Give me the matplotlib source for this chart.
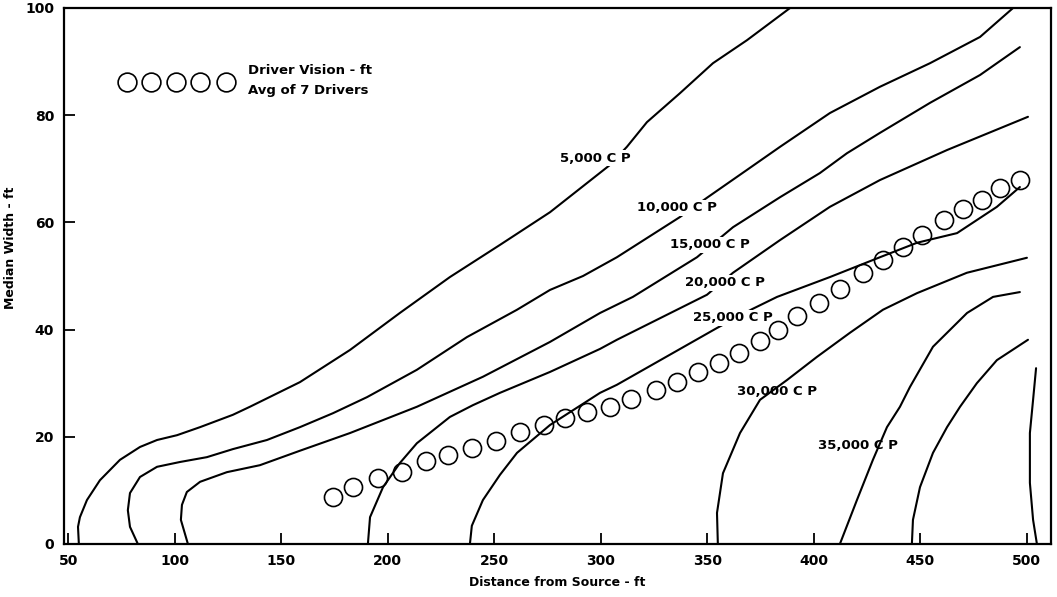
import matplotlib
matplotlib.use("Agg")
import matplotlib.pyplot as plt

# ---- data ----
cp5000_x = [55.0, 54.6, 55.5, 58.8, 64.9, 74.3, 83.7, 91.7, 101.1, 111.9, 127.3, 135.3, 158.8, 182.3,
            205.7, 229.2, 252.7, 276.2, 304.3, 312.3, 321.7, 337.2, 352.7, 368.7, 388.9]
cp5000_y = [0, 3.2, 5.0, 8.2, 11.9, 15.7, 18.1, 19.4, 20.3, 21.8, 24.1, 25.6, 30.2, 36.2,
            43.1, 49.8, 55.8, 61.9, 70.7, 74.1, 78.7, 84.1, 89.7, 94.0, 100]

cp10000_x = [82.7, 79.0, 78.0, 79.0, 83.7, 91.7, 102.5, 115.1, 127.3, 143.3, 158.8, 174.3, 190.3,
             213.7, 237.2, 260.7, 276.2, 291.7, 307.6, 337.2, 349.9, 368.7, 384.2, 407.6, 431.1,
             454.6, 478.1, 493.6]
cp10000_y = [0, 3.2, 6.3, 9.5, 12.5, 14.4, 15.3, 16.2, 17.7, 19.4, 21.8, 24.4, 27.4,
             32.5, 38.6, 43.7, 47.4, 50.0, 53.5, 61.0, 64.6, 69.8, 74.1, 80.4, 85.3,
             89.7, 94.6, 100]

cp15000_x = [106.2, 102.9, 103.4, 105.7, 111.9, 124.5, 140.0, 158.8, 182.3, 213.7, 244.7, 276.2,
             299.7, 315.1, 345.2, 362.1, 384.2, 402.9, 415.6, 431.1, 454.6, 478.1, 486.0, 496.8]
cp15000_y = [0, 4.5, 7.3, 9.7, 11.6, 13.4, 14.7, 17.4, 20.7, 25.6, 31.2, 37.7,
             43.1, 46.1, 53.5, 59.1, 64.7, 69.2, 72.9, 76.7, 82.3, 87.5, 89.7, 92.7]

cp20000_x = [190.7, 191.7, 197.8, 205.7, 213.7, 229.2, 240.0, 252.7, 276.2, 299.7, 307.6, 349.9,
             362.1, 384.2, 407.6, 431.1, 462.6, 500.6]
cp20000_y = [0, 5.0, 10.6, 15.1, 18.8, 23.7, 25.9, 28.2, 32.1, 36.4, 38.1, 46.5,
             50.6, 56.7, 62.9, 67.9, 73.5, 79.7]

cp25000_x = [238.6, 239.5, 244.7, 252.7, 260.7, 276.2, 299.7, 307.6, 354.6, 371.0, 382.8, 407.6,
             431.1, 448.5, 467.3, 486.0, 496.8]
cp25000_y = [0, 3.4, 8.2, 12.9, 17.0, 22.2, 28.2, 29.7, 40.3, 43.8, 46.1, 49.8,
             53.5, 56.2, 58.0, 62.9, 66.6]

cp30000_x = [355.0, 354.6, 357.4, 365.4, 374.8, 387.5, 401.5, 417.0, 432.5, 448.5, 471.9, 500.1]
cp30000_y = [0, 5.8, 13.2, 20.7, 26.9, 30.6, 34.9, 39.4, 43.7, 46.8, 50.6, 53.4]

cp35000_x = [412.3, 420.3, 427.8, 434.4, 440.5, 445.2, 456.0, 472.0, 484.2, 496.8]
cp35000_y = [0, 8.2, 15.7, 21.8, 25.6, 29.3, 36.8, 43.1, 46.1, 47.0]

cp40000_x = [446.1, 446.6, 449.9, 456.0, 462.6, 468.7, 476.6, 486.0, 500.6]
cp40000_y = [0, 4.5, 10.6, 17.0, 21.8, 25.6, 30.0, 34.3, 38.1]

cp45000_x = [504.8, 503.0, 501.5, 501.5, 503.0, 504.4]
cp45000_y = [0, 4.5, 11.4, 20.7, 26.9, 32.8]

vision_x = [174.3, 183.7, 195.4, 206.7, 218.0, 228.3, 239.5, 250.8, 262.1, 273.4, 283.2, 293.5,
            304.3, 314.2, 325.9, 335.8, 345.7, 355.5, 364.9, 374.8, 383.2, 392.1, 402.5, 412.3,
            423.1, 432.5, 441.9, 450.8, 461.1, 470.1, 479.0, 487.4, 496.8]
vision_y = [8.8, 10.6, 12.3, 13.4, 15.5, 16.6, 17.9, 19.2, 20.9, 22.2, 23.5, 24.6,
            25.6, 27.1, 28.7, 30.2, 32.1, 33.8, 35.6, 37.9, 39.9, 42.5, 45.0, 47.6,
            50.6, 53.0, 55.4, 57.6, 60.4, 62.5, 64.2, 66.4, 67.9]

legend_x = [77.4, 89.0, 100.6, 112.1, 124.2]
legend_y = [86.2, 86.2, 86.2, 86.2, 86.2]
legend_lines = ["Driver Vision - ft", "Avg of 7 Drivers"]

curve_labels = ["5,000 C P", "10,000 C P", "15,000 C P", "20,000 C P",
                "25,000 C P", "30,000 C P", "35,000 C P"]
label_x = [280.9, 317.0, 332.5, 339.5, 343.3, 364.0, 402.0]
label_y = [72.0, 62.7, 55.8, 48.7, 42.2, 28.4, 18.3]
label_masked = [True, True, True, True, True, False, False]

x_ticks = [50, 100, 150, 200, 250, 300, 350, 400, 450, 500]
y_ticks = [0, 20, 40, 60, 80, 100]

# ---- drawing ----
plt.rcParams['font.family'] = ['DejaVu Sans']
plt.rcParams['font.weight'] = 'bold'
fig = plt.figure(figsize=(10.57, 5.97), dpi=100)
ax = fig.add_axes([0.0605, 0.0888, 0.9338, 0.8978])

curves = [(cp5000_x, cp5000_y), (cp10000_x, cp10000_y), (cp15000_x, cp15000_y),
          (cp20000_x, cp20000_y), (cp25000_x, cp25000_y), (cp30000_x, cp30000_y),
          (cp35000_x, cp35000_y), (cp40000_x, cp40000_y), (cp45000_x, cp45000_y)]
for cx, cy in curves:
    ax.plot(cx, cy, color='black', lw=1.5, solid_capstyle='round',
            solid_joinstyle='round', zorder=2, clip_on=True)

for txt, lx, ly, m in zip(curve_labels, label_x, label_y, label_masked):
    kw = dict(fontsize=9.5, fontweight='bold', ha='left', va='center', color='black', zorder=3)
    if m:
        kw['bbox'] = dict(facecolor='white', edgecolor='none', pad=1.0)
    ax.text(lx, ly, txt, **kw)

ax.plot(vision_x, vision_y, linestyle='none', marker='o', markersize=13,
        markerfacecolor='none', markeredgecolor='black', markeredgewidth=1.2, zorder=4)
ax.plot(legend_x, legend_y, linestyle='none', marker='o', markersize=13.5,
        markerfacecolor='none', markeredgecolor='black', markeredgewidth=1.2, zorder=4)
ax.text(134.4, 88.4, legend_lines[0], fontsize=9.5, fontweight='bold', ha='left', va='center')
ax.text(134.4, 84.6, legend_lines[1], fontsize=9.5, fontweight='bold', ha='left', va='center')

ax.set_xlim(48, 511.4)
ax.set_ylim(0, 100)
ax.set_xticks(x_ticks)
ax.set_yticks(y_ticks)
ax.tick_params(direction='in', length=8, width=1.3, labelsize=10, pad=7)
for lab in ax.get_xticklabels() + ax.get_yticklabels():
    lab.set_fontweight('bold')
for s in ax.spines.values():
    s.set_linewidth(1.6)

ax.set_xlabel("Distance from Source - ft", fontsize=9, fontweight='bold')
ax.set_ylabel("Median Width - ft", fontsize=9, fontweight='bold')
ax.xaxis.set_label_coords(0.5, -0.06)
ax.yaxis.set_label_coords(-0.048, 0.552)

fig.savefig("out.png", dpi=100)
